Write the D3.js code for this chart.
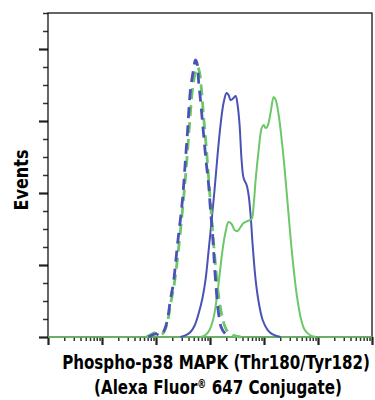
<!DOCTYPE html>
<html>
<head>
<meta charset="utf-8">
<script src="https://cdn.jsdelivr.net/npm/d3@7"></script>
<style>
  body { margin: 0; background: #fff; }
  .lbl { font-family: "Liberation Sans Narrow", "DejaVu Sans Condensed", "Roboto", sans-serif; font-weight: bold; font-stretch: condensed; fill: #000; }
</style>
</head>
<body>
<div class="chart"></div>
<script>
// 枠の設定
const margin = { top: 13, right: 3, bottom: 63, left: 48 };
const W = 375, H = 400;
const width = W - margin.left - margin.right;
const height = H - margin.top - margin.bottom;

// データ: [log10(蛍光強度), イベント数]
const blueDashed = [
  [1.858, 0], [1.932, 2.8], [2.006, 4.2], [2.081, 1.4], [2.155, 9.7], [2.211, 23.6],
  [2.266, 51.4], [2.322, 75], [2.397, 127.8], [2.490, 190.3], [2.545, 245.8], [2.582, 283.3],
  [2.638, 343], [2.694, 371], [2.731, 384.7], [2.768, 377.8], [2.787, 356.9], [2.824, 329.2],
  [2.879, 283.3], [2.935, 238.9], [2.972, 213.9], [3.009, 176.4], [3.046, 144.4], [3.102, 79.2],
  [3.158, 33.3], [3.213, 12.5], [3.288, 4.2], [3.381, 0]
];
const greenDashed = [
  [1.821, 0], [1.895, 2.8], [1.969, 5.6], [2.043, 2.8], [2.136, 5.6], [2.211, 20.8],
  [2.266, 44.4], [2.341, 75], [2.415, 120.8], [2.508, 190.3], [2.564, 238.9], [2.620, 294.4],
  [2.675, 343], [2.731, 368], [2.768, 375], [2.805, 368], [2.843, 343], [2.879, 308],
  [2.935, 259.7], [2.991, 204.2], [3.046, 148.6], [3.102, 100], [3.158, 58.3], [3.232, 26.4],
  [3.307, 9.7], [3.418, 2.8], [3.567, 0]
];
const blueSolid = [
  [2.452, 0], [2.564, 2.8], [2.638, 6.9], [2.712, 15.3], [2.787, 31.9], [2.861, 54.2],
  [2.917, 79.2], [2.972, 118.1], [3.028, 159.7], [3.084, 204.2], [3.140, 252.8], [3.195, 294.4],
  [3.251, 325], [3.307, 338.9], [3.344, 336.1], [3.381, 329.2], [3.418, 330.6], [3.474, 334.7],
  [3.511, 322.2], [3.548, 294.4], [3.585, 245.8], [3.622, 220.8], [3.678, 211.1], [3.715, 197.2],
  [3.752, 169.4], [3.790, 127.8], [3.845, 79.2], [3.901, 48.6], [3.975, 23.6], [4.068, 9.7],
  [4.180, 2.8], [4.310, 0]
];
const greenSolid = [
  [2.824, 0], [2.917, 2.8], [2.991, 9.7], [3.065, 26.4], [3.121, 51.4], [3.177, 86.1],
  [3.232, 120.8], [3.288, 145.8], [3.344, 159.7], [3.400, 156.9], [3.455, 148.6], [3.511, 147.2],
  [3.567, 152.8], [3.622, 158.3], [3.697, 161.1], [3.771, 163.9], [3.808, 183.3], [3.845, 218.1],
  [3.901, 259.7], [3.957, 290.3], [3.994, 294.4], [4.031, 290.3], [4.068, 293.1], [4.124, 312.5],
  [4.180, 333.3], [4.217, 329.2], [4.272, 308.3], [4.328, 273.6], [4.384, 231.9], [4.440, 183.3],
  [4.496, 134.7], [4.551, 93.1], [4.607, 58.3], [4.681, 26.4], [4.756, 9.7], [4.849, 2.8],
  [4.960, 0]
];

const xDomain = [1, 1e6];
const yDomain = [0, 450];
const yMajor = [0, 100, 200, 300, 400];
const yMinorStep = 25;
// ラベル (® は上付き)
const xTitle = [
  [{ t: "Phospho-p38 MAPK (Thr180/Tyr182)" }],
  [{ t: "(Alexa Fluor" }, { t: "®", sup: true }, { t: " 647 Conjugate)" }]
];
const yTitle = "Events";

const blue = "#4a52b5";
const green = "#6cc768";

const svg = d3.select(".chart").append("svg")
  .attr("width", W).attr("height", H);
const g = svg.append("g").attr("transform", `translate(${margin.left},${margin.top})`);

const x = d3.scaleLog().domain(xDomain).range([0, width]);
const y = d3.scaleLinear().domain(yDomain).range([height, 0]);

// y軸の目盛り
const yMinor = d3.range(0, yDomain[1] + 1, yMinorStep).filter(v => !yMajor.includes(v));
g.append("g")
  .call(d3.axisLeft(y).tickValues(yMinor).tickSize(5).tickFormat(""))
  .call(a => a.select(".domain").remove())
  .selectAll("line").attr("stroke", "#333").attr("stroke-width", 1.5);
g.append("g")
  .call(d3.axisLeft(y).tickValues(yMajor).tickSize(9).tickFormat(""))
  .call(a => a.select(".domain").remove())
  .selectAll("line").attr("stroke", "#222").attr("stroke-width", 2.2);

// x軸の目盛り (対数)
const allX = x.ticks();
const xMajorV = allX.filter(v => Math.abs(Math.log10(v) - Math.round(Math.log10(v))) < 1e-9);
const xMinorV = allX.filter(v => !xMajorV.includes(v));
g.append("g").attr("transform", `translate(0,${height})`)
  .call(d3.axisBottom(x).tickValues(xMinorV).tickSize(4).tickFormat(""))
  .call(a => a.select(".domain").remove())
  .selectAll("line").attr("stroke", "#333").attr("stroke-width", 1.5);
g.append("g").attr("transform", `translate(0,${height})`)
  .call(d3.axisBottom(x).tickValues(xMajorV).tickSize(8).tickFormat(""))
  .call(a => a.select(".domain").remove())
  .selectAll("line").attr("stroke", "#222").attr("stroke-width", 2.2);

// 枠
g.append("rect")
  .attr("width", width).attr("height", height)
  .attr("fill", "none").attr("stroke", "#000").attr("stroke-width", 1.2);

// ヒストグラム
const line = d3.line()
  .x(d => x(Math.pow(10, d[0])))
  .y(d => y(d[1]))
  .curve(d3.curveCatmullRom.alpha(0.5));

// ベースライン
g.append("line")
  .attr("x1", 0).attr("x2", width)
  .attr("y1", y(0)).attr("y2", y(0))
  .attr("stroke", green).attr("stroke-width", 1.5);

const series = [
  { data: blueSolid, color: blue, dash: null },
  { data: greenSolid, color: green, dash: null },
  { data: greenDashed, color: green, dash: "11,6" },
  { data: blueDashed, color: blue, dash: "11,7" }
];
g.selectAll(".hist")
  .data(series)
  .enter().append("path")
  .attr("class", "hist")
  .attr("d", d => line(d.data))
  .attr("fill", "none")
  .attr("stroke", d => d.color)
  .attr("stroke-width", d => d.dash ? 2.8 : 2)
  .attr("stroke-dasharray", d => d.dash)
  .attr("stroke-linejoin", "round");

// ラベル (縦に少し伸ばして細長い書体に寄せる)
svg.append("text").attr("class", "lbl")
  .attr("transform", `translate(28,180) rotate(-90) scale(1.05,1.12)`)
  .attr("text-anchor", "middle")
  .style("font-size", "17px")
  .text(yTitle);

const xPos = [[216, 369], [218, 394]];
const xt = svg.selectAll(".xt")
  .data(xTitle)
  .enter().append("text")
  .attr("class", "lbl xt")
  .attr("text-anchor", "middle")
  .attr("transform", (d, i) => `translate(${xPos[i][0]},${xPos[i][1]}) scale(1,1.14)`)
  .style("font-size", "16.8px");
xt.selectAll("tspan")
  .data(d => d)
  .enter().append("tspan")
  .attr("dy", (d, i, n) => d.sup ? -5 : (i > 0 && n[i - 1].__data__.sup ? 5 : 0))
  .style("font-size", d => d.sup ? "10px" : null)
  .text(d => d.t);
</script>
</body>
</html>
